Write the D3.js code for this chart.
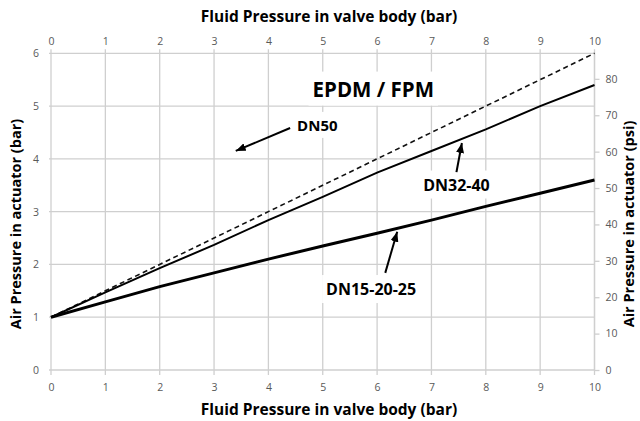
<!DOCTYPE html>
<html>
<head>
<meta charset="utf-8">
<script src="https://cdn.jsdelivr.net/npm/d3@7"></script>
<style>
  body { margin: 0; background: #fff; }
  svg { display: block; }
  .tick text { font-family: "Open Sans", sans-serif; font-size: 10.5px; fill: #595959; }
  .title { font-family: "Open Sans", sans-serif; font-weight: bold; fill: #000; }
</style>
</head>
<body>
<svg id="chart" width="640" height="421"></svg>
<script>
// fluid pressure in valve body (bar)
var fluid = [0, 1, 2, 3, 4, 5, 6, 7, 8, 9, 10]

// air pressure needed in actuator (bar)
var dn50 = [1, 1.5, 2, 2.5, 3, 3.5, 4, 4.5, 5, 5.5, 6]
var dn3240 = [1, 1.47, 1.93, 2.37, 2.84, 3.28, 3.74, 4.15, 4.56, 5.0, 5.4]
var dn152025 = [1, 1.29, 1.58, 1.84, 2.1, 2.35, 2.59, 2.84, 3.1, 3.35, 3.6]

var barTicks = [0, 1, 2, 3, 4, 5, 6]
var psiTicks = [0, 10, 20, 30, 40, 50, 60, 70, 80]
var barToPsi = 14.5038

var svg = d3.select('#chart')

var x = d3.scaleLinear().domain([0, 10]).range([51, 594.5])
var y = d3.scaleLinear().domain([0, 6]).range([370, 53.3])
var yPsi = d3.scaleLinear().domain([0, 6 * barToPsi]).range([370, 53.3])

var gridColor = '#cfcfcf'

// grid
svg.append('g').selectAll('line')
  .data(fluid)
  .enter().append('line')
  .attr('x1', d => x(d)).attr('x2', d => x(d))
  .attr('y1', y(6) - 4).attr('y2', y(0) + 5)
  .style('stroke', gridColor).style('stroke-width', 1.3)

svg.append('g').selectAll('line')
  .data(barTicks)
  .enter().append('line')
  .attr('x1', x(0) - 2).attr('x2', x(10))
  .attr('y1', d => y(d)).attr('y2', d => y(d))
  .style('stroke', gridColor).style('stroke-width', 1.3)

// axes (labels only, lines drawn as grid)
var fmt = d3.format('d')
var axTop = svg.append('g').attr('transform', 'translate(0,' + y(6) + ')')
  .call(d3.axisTop(x).tickValues(fluid).tickFormat(fmt).tickSize(0).tickPadding(8))
var axBottom = svg.append('g').attr('transform', 'translate(0,' + y(0) + ')')
  .call(d3.axisBottom(x).tickValues(fluid).tickFormat(fmt).tickSize(0).tickPadding(14))
var axLeft = svg.append('g').attr('transform', 'translate(' + x(0) + ',0)')
  .call(d3.axisLeft(y).tickValues(barTicks).tickFormat(fmt).tickSize(0).tickPadding(12))
var axRight = svg.append('g').attr('transform', 'translate(' + x(10) + ',0)')
  .call(d3.axisRight(yPsi).tickValues(psiTicks).tickFormat(fmt).tickSize(5).tickPadding(6))

;[axTop, axBottom, axLeft, axRight].forEach(function (g) {
  g.select('.domain').remove()
  g.selectAll('.tick line').style('stroke', gridColor).style('stroke-width', 1.3)
})
svg.append('line')
  .attr('x1', x(10)).attr('x2', x(10))
  .attr('y1', y(6)).attr('y2', y(0))
  .style('stroke', gridColor).style('stroke-width', 1.3)

// series
var line = d3.line().x((d, i) => x(fluid[i])).y(d => y(d))

svg.append('path').datum(dn50).attr('d', line)
  .style('fill', 'none').style('stroke', '#111').style('stroke-width', 1.6)
  .style('stroke-dasharray', '5,3.5')
svg.append('path').datum(dn3240).attr('d', line)
  .style('fill', 'none').style('stroke', '#000').style('stroke-width', 2)
svg.append('path').datum(dn152025).attr('d', line)
  .style('fill', 'none').style('stroke', '#000').style('stroke-width', 3)

// axis titles
svg.append('text').attr('class', 'title')
  .attr('x', 329).attr('y', 22).attr('text-anchor', 'middle')
  .style('font-size', '15.5px')
  .text('Fluid Pressure in valve body (bar)')
svg.append('text').attr('class', 'title')
  .attr('x', 329).attr('y', 415).attr('text-anchor', 'middle')
  .style('font-size', '15.5px')
  .text('Fluid Pressure in valve body (bar)')
svg.append('text').attr('class', 'title')
  .attr('transform', 'translate(21,224) rotate(-90)').attr('text-anchor', 'middle')
  .style('font-size', '14.5px')
  .text('Air Pressure in actuator (bar)')
svg.append('text').attr('class', 'title')
  .attr('transform', 'translate(634,224) rotate(-90)').attr('text-anchor', 'middle')
  .style('font-size', '14.5px')
  .text('Air Pressure in actuator (psi)')

// annotations
var defs = svg.append('defs')
defs.append('marker')
  .attr('id', 'arrow')
  .attr('markerUnits', 'userSpaceOnUse')
  .attr('markerWidth', 11).attr('markerHeight', 8)
  .attr('refX', 10).attr('refY', 4)
  .attr('orient', 'auto')
  .append('path').attr('d', 'M0,0 L10,4 L0,8 z').style('fill', '#000')

var labels = [
  {text: 'EPDM / FPM', x: 5.93, y: 5.18, size: 20.5},
  {text: 'DN50', x: 4.9, y: 4.53, size: 15},
  {text: 'DN32-40', x: 7.46, y: 3.4, size: 16},
  {text: 'DN15-20-25', x: 5.89, y: 1.42, size: 16}
]
var arrows = [
  {x1: 4.4, y1: 4.585, x2: 3.4, y2: 4.15},
  {x1: 7.46, y1: 3.75, x2: 7.56, y2: 4.3},
  {x1: 6.15, y1: 1.84, x2: 6.37, y2: 2.62}
]

labels.forEach(function (l) {
  var g = svg.append('g')
  var bg = g.append('rect').style('fill', '#fff')
  var t = g.append('text').attr('class', 'title')
    .attr('x', x(l.x)).attr('y', y(l.y))
    .attr('text-anchor', 'middle')
    .style('font-size', l.size + 'px')
    .text(l.text)
  var b = t.node().getBBox()
  bg.attr('x', b.x - 4).attr('y', b.y - 3).attr('width', b.width + 8).attr('height', b.height + 6)
})

svg.append('g').selectAll('line')
  .data(arrows)
  .enter().append('line')
  .attr('x1', d => x(d.x1)).attr('y1', d => y(d.y1))
  .attr('x2', d => x(d.x2)).attr('y2', d => y(d.y2))
  .style('stroke', '#000').style('stroke-width', 2)
  .attr('marker-end', 'url(#arrow)')
</script>
</body>
</html>
